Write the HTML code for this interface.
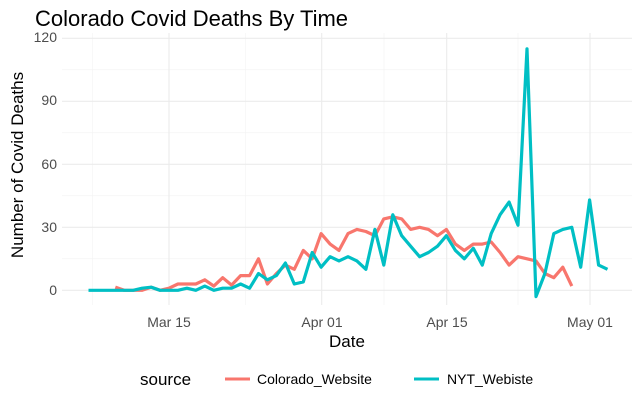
<!DOCTYPE html>
<html><head><meta charset="utf-8"><style>
body{margin:0;background:#fff;}
svg{display:block;font-family:"Liberation Sans",sans-serif;}
</style></head><body>
<svg id="s" width="640" height="400" viewBox="0 0 640 400" xmlns="http://www.w3.org/2000/svg">
<rect width="640" height="400" fill="#fff"/>
<g id="grid"></g>
<g id="lines"></g>
<text x="35" y="26" font-size="22" fill="#000">Colorado Covid Deaths By Time</text>
<g font-size="14" fill="#4d4d4d" text-anchor="end">
<text x="57" y="295">0</text>
<text x="57" y="232">30</text>
<text x="57" y="169">60</text>
<text x="57" y="105">90</text>
<text x="57" y="42">120</text>
</g>
<g font-size="14" fill="#4d4d4d" text-anchor="middle">
<text x="169" y="327">Mar 15</text>
<text x="322" y="327">Apr 01</text>
<text x="447" y="327">Apr 15</text>
<text x="590" y="327">May 01</text>
</g>
<text x="347" y="347" font-size="17" text-anchor="middle" fill="#000">Date</text>
<text transform="translate(23,165) rotate(-90)" font-size="17" text-anchor="middle" fill="#000">Number of Covid Deaths</text>
<text x="140" y="385" font-size="17" fill="#000">source</text>
<line x1="225" y1="379" x2="250" y2="379" stroke="#F8766D" stroke-width="3"/>
<text x="257" y="384" font-size="14" fill="#000">Colorado_Website</text>
<line x1="414" y1="379" x2="439" y2="379" stroke="#00BFC4" stroke-width="3"/>
<text x="447" y="384" font-size="14" fill="#000">NYT_Webiste</text>
</svg>
<script>
var ns="http://www.w3.org/2000/svg";
function X(d){return 169+8.95*d;}
function Y(v){return 290.3-2.1*v;}
var g=document.getElementById('grid'),L=document.getElementById('lines');
function ln(p,x1,y1,x2,y2,c,w){var e=document.createElementNS(ns,'line');e.setAttribute('x1',x1);e.setAttribute('y1',y1);e.setAttribute('x2',x2);e.setAttribute('y2',y2);e.setAttribute('stroke',c);e.setAttribute('stroke-width',w);p.appendChild(e);}
[15,45,75,105].forEach(v=>ln(g,62,Y(v),632,Y(v),'#f2f2f2',0.6));
[92.7,245.3,384,518].forEach(x=>ln(g,x,33,x,305,'#f2f2f2',0.6));
[0,30,60,90,120].forEach(v=>ln(g,62,Y(v),632,Y(v),'#ebebeb',1.1));
[169,321.7,446.7,590].forEach(x=>ln(g,x,33,x,305,'#ebebeb',1.1));
var nyt=[0,0,0,0,0,0,1,1.5,0,0,0,1,0,2,0,1,1,3,1,8,5,7,13,3,4,18,11,16,14,16,14,10,29,12,36,26,21,16,18,21,26,19,15,20,12,27,36,42,31,115,-3,8,27,29,30,11,43,12,10];
var col=[1.5,0,0,0,1.5,0,1,3,3,3,5,2,6,2.5,7,7,15,3,8,12,10,19,15,27,22,19,27,29,28,26,34,35,34,29,30,29,26,29,22,19,22,22,23,18,12,16,15,14,8,6,11,2];
function path(arr,start,c){var d='';arr.forEach((v,i)=>{d+=(i?'L':'M')+X(start+i).toFixed(1)+','+Y(v).toFixed(1);});var e=document.createElementNS(ns,'path');e.setAttribute('d',d);e.setAttribute('fill','none');e.setAttribute('stroke',c);e.setAttribute('stroke-width','3.2');e.setAttribute('stroke-linejoin','round');L.appendChild(e);}
path(col,-6,'#F8766D');
path(nyt,-9,'#00BFC4');
</script>
</body></html>
